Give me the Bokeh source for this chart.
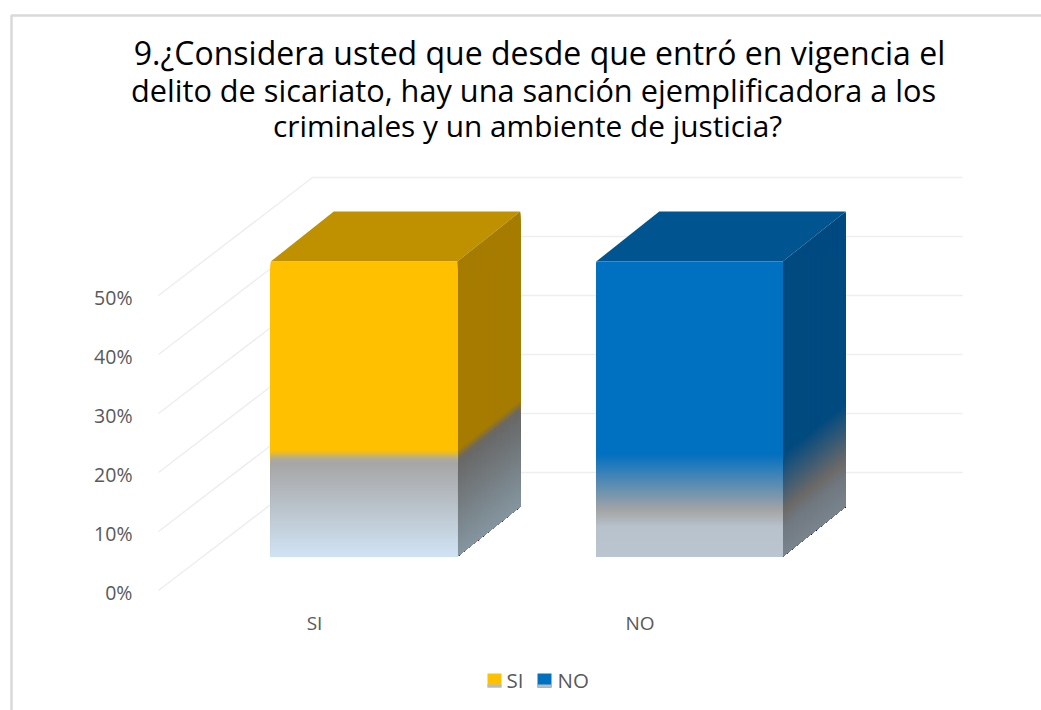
from bokeh.plotting import figure
from bokeh.models import Range1d, FixedTicker, ColumnDataSource
from bokeh.core.properties import value as fv
from bokeh.embed import file_html
from bokeh.resources import INLINE

# ---- data ----
categories = ["SI", "NO"]
shares = [50, 50]
y_ticks = [0, 10, 20, 30, 40, 50]
title_lines = ["9.¿Considera usted que desde que entró en vigencia el",
               "delito de sicariato, hay una sanción ejemplificadora a los",
               "criminales y un ambiente de justicia?"]

# ---- styling: gradient stops (fraction of bar height, rgb) ----
front_stops = {
    "SI": [(0, (208, 227, 244)), (.315, (166, 166, 166)), (.33, (172, 170, 160)), (.36, (255, 192, 0)), (1, (255, 192, 0))],
    "NO": [(0, (186, 197, 207)), (.10, (184, 194, 204)), (.155, (165, 165, 165)), (.35, (0, 112, 192)), (1, (0, 112, 192))],
}
side_stops = {
    "SI": [(0, (133, 150, 160)), (.315, (105, 105, 105)), (.33, (110, 105, 95)), (.36, (166, 124, 0)), (1, (166, 124, 0))],
    "NO": [(0, (122, 132, 140)), (.10, (112, 120, 128)), (.155, (108, 106, 104)), (.35, (0, 74, 128)), (1, (0, 74, 128))],
}
top_color = {"SI": "#bf9000", "NO": "#00548f"}
swatch_color = {"SI": "#ffc000", "NO": "#0070c0"}

W, H = 1041, 710
LEFT, TOP = 0, 0
PX_0, PX_CAT = 314.0, 325.5      # pixel of category 0, pixels per category
PY_0, PY_PCT = 592.0, 5.9        # pixel of 0 %, pixels per percentage point


def X(px):
    return (px - PX_0) / PX_CAT


def Y(py):
    return (PY_0 - py) / PY_PCT


p = figure(width=W, height=H, output_backend="svg", toolbar_location=None,
           x_range=Range1d(X(LEFT), X(LEFT + W)), y_range=Range1d(Y(TOP + H), Y(TOP)),
           min_border=0, min_border_left=0, min_border_right=0, min_border_top=0, min_border_bottom=0,
           outline_line_color=None, tools="")
p.grid.visible = False

# chart border
p.line([X(11), X(11), X(1041)], [Y(710), Y(15), Y(15)], line_color="#d9d9d9", line_width=2.5)

# walls
WALL_X, WALL_Y = 154 / PX_CAT, 118 / PY_PCT
WALL_BASE = 2 / PY_PCT
wall_left = X(158)
wall_right = X(808)
for t in y_ticks:
    p.line([wall_left, wall_left + WALL_X, wall_right + WALL_X],
           [t + WALL_BASE, t + WALL_BASE + WALL_Y, t + WALL_BASE + WALL_Y],
           line_color="#eeeeee", line_width=1.5)

# axes
p.yaxis.fixed_location = wall_left
p.yaxis.ticker = FixedTicker(ticks=y_ticks)
p.yaxis.major_label_overrides = {t: f"{t}%" for t in y_ticks}
p.yaxis.axis_line_color = None
p.yaxis.major_tick_line_color = None
p.yaxis.minor_tick_line_color = None
p.yaxis.major_label_standoff = 20
p.yaxis.major_label_text_font = "Open Sans"
p.yaxis.major_label_text_font_size = "19.5px"
p.yaxis.major_label_text_color = "#595959"

p.xaxis.fixed_location = Y(599)
p.xaxis.ticker = FixedTicker(ticks=[0, 1])
p.xaxis.major_label_overrides = {i: c for i, c in enumerate(categories)}
p.xaxis.axis_line_color = None
p.xaxis.major_tick_line_color = None
p.xaxis.minor_tick_line_color = None
p.xaxis.major_label_standoff = 4
p.xaxis.major_label_text_font = "Open Sans"
p.xaxis.major_label_text_font_size = "19px"
p.xaxis.major_label_text_color = "#595959"


def lerp(stops, f):
    for (f0, c0), (f1, c1) in zip(stops, stops[1:]):
        if f <= f1:
            k = (f - f0) / (f1 - f0) if f1 > f0 else 0
            return tuple(round(a + (b - a) * k) for a, b in zip(c0, c1))
    return stops[-1][1]


def hexc(c):
    return "#%02x%02x%02x" % c


# bars
HALF = 93.25 / PX_CAT
FRONT_X, FRONT_Y = 49.5 / PX_CAT, 36 / PY_PCT
BACK_X, BACK_Y = 112.5 / PX_CAT, 86 / PY_PCT
STEPS = 295
for i, (cat, v) in enumerate(zip(categories, shares)):
    l = i - HALF + FRONT_X
    r = i + HALF + FRONT_X
    b0 = FRONT_Y
    # top face
    p.patch([l, r, i + HALF + BACK_X, i - HALF + BACK_X],
            [v + FRONT_Y, v + FRONT_Y, v + BACK_Y, v + BACK_Y],
            fill_color=top_color[cat], line_color=None)
    # front and side faces, painted top-down so that no seams appear
    fl, fr, fb, ft, fc, sx, sy, sc = [], [], [], [], [], [], [], []
    for s in range(STEPS, 0, -1):
        f = s / STEPS
        mid = (s - .5) / STEPS
        fl.append(l); fr.append(r); fb.append(b0); ft.append(b0 + v * f)
        fc.append(hexc(lerp(front_stops[cat], mid)))
        sx.append([r, i + HALF + BACK_X, i + HALF + BACK_X, r])
        sy.append([b0, BACK_Y, BACK_Y + v * f, b0 + v * f])
        sc.append(hexc(lerp(side_stops[cat], mid)))
    p.patches("x", "y", source=ColumnDataSource(dict(x=sx, y=sy, c=sc)),
              fill_color="c", line_color=None)
    p.quad(left="l", right="r", bottom="b", top="t",
           source=ColumnDataSource(dict(l=fl, r=fr, b=fb, t=ft, c=fc)),
           fill_color="c", line_color=None)

# legend
sw_x = [487, 537]
tx_x = [506, 557]
for k, cat in enumerate(categories):
    p.quad(left=[X(sw_x[k])], right=[X(sw_x[k] + 14)], bottom=[Y(687)], top=[Y(673)],
           fill_color=swatch_color[cat], line_color=None)
    p.quad(left=[X(sw_x[k])], right=[X(sw_x[k] + 14)], bottom=[Y(687)], top=[Y(684)],
           fill_color="#b4bcc4", line_color=None)
p.text(x=[X(v) for v in tx_x], y=[Y(679)] * 2, text=categories,
       text_font=fv("Open Sans"), text_font_size="20.5px", text_color="#595959",
       text_align="left", text_baseline="middle")

# title
title_x = [539, 533, 527]
title_y = [52, 89, 125]
title_px = ["32px", "30.7px", "29.8px"]
for line, tx, ty, fs in zip(title_lines, title_x, title_y, title_px):
    p.text(x=[X(tx)], y=[Y(ty)], text=[line],
           text_font=fv("Open Sans"), text_font_size=fs, text_color="#000000",
           text_align="center", text_baseline="middle")

open("out.html", "w").write(file_html(p, INLINE))
